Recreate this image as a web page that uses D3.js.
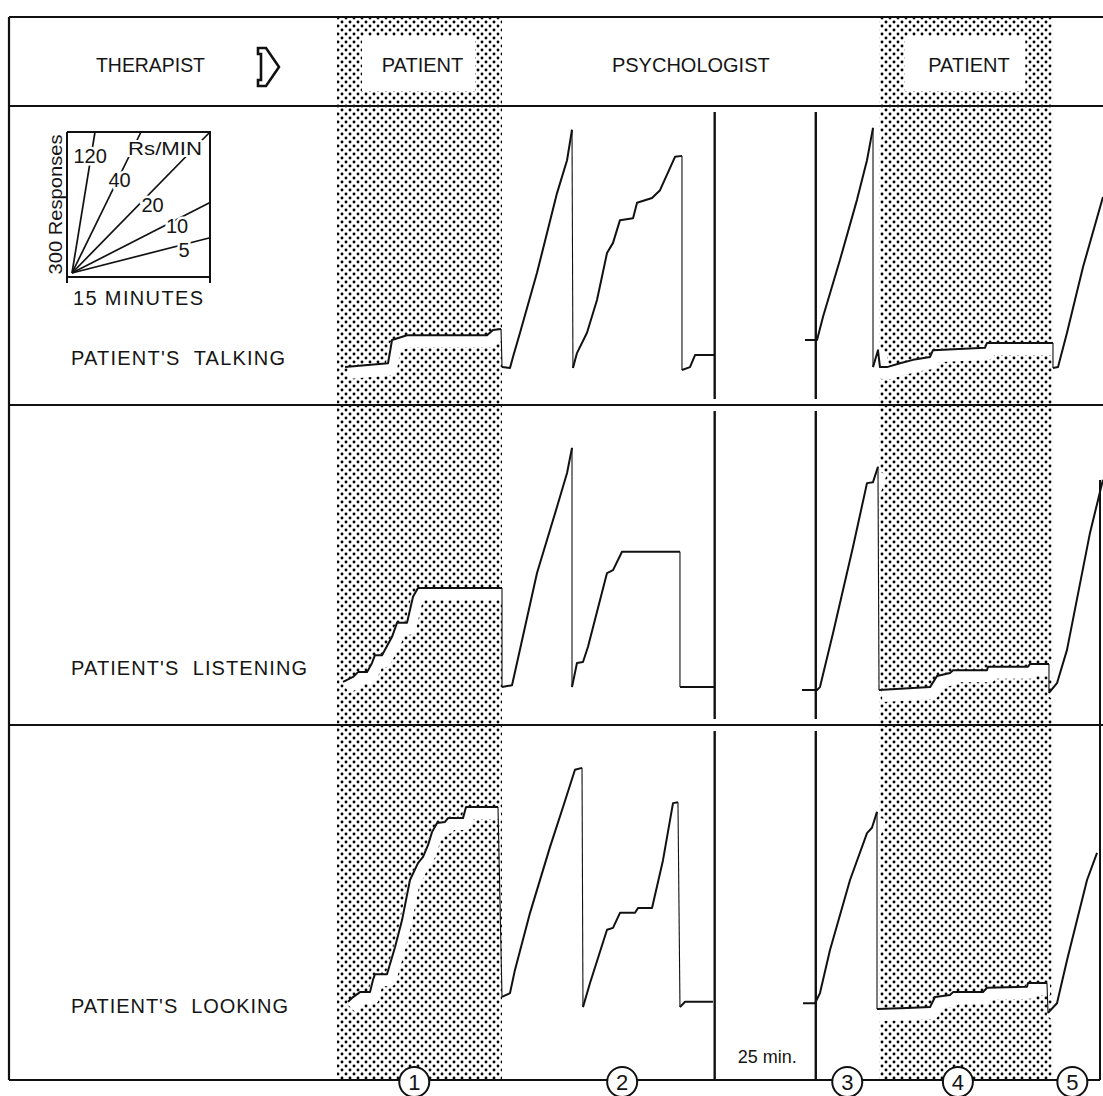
<!DOCTYPE html>
<html>
<head>
<meta charset="utf-8">
<script src="https://cdn.jsdelivr.net/npm/d3@7"></script>
<style>
  body { margin: 0; background: #fff; }
  text { font-family: "Liberation Sans", Arial, sans-serif; fill: #151515; white-space: pre; }
</style>
</head>
<body>
<div id="viz"></div>
<script>
// ---- data (minutes on the record, cumulative responses) ----
const rowLabels = ["PATIENT'S  TALKING", "PATIENT'S  LISTENING", "PATIENT'S  LOOKING"];
const phaseRoles = ['PATIENT', 'PSYCHOLOGIST', 'PATIENT'];
const phaseStart = [0, 17.3, 56.9];
const phaseEnd = [17.3, 56.9, 75.0];
const phaseMarks = [8.1, 29.9, 53.5, 65.1, 77.1];
const phaseNumbers = ['1', '2', '3', '4', '5'];
const breakFrom = 39.6;
const breakTo = 50.2;
const breakLabel = '25 min.';
const legendRates = [120, 40, 20, 10, 5];

const talking = [
  [[0.84, 6], [5.35, 14], [5.77, 62], [7.34, 72], [15.73, 72], [16.36, 83], [17.2, 85]],
  [[17.3, 6], [18.14, 4], [18.45, 27], [19.19, 77], [20.97, 201], [23.07, 366], [24.12, 434], [24.64, 497]],
  [[24.74, 4], [25.16, 35], [26.21, 77], [27.26, 145], [28.31, 242], [28.94, 263], [29.67, 310], [31.04, 314],
   [31.46, 346], [33.03, 356], [33.87, 372], [35.44, 441], [36.17, 443]],
  [[36.17, 0], [37.01, 6], [37.54, 31], [39.63, 31]],
  [[49.07, 62], [50.33, 62], [50.96, 110], [52.74, 228], [54.52, 352], [55.57, 434], [56.2, 501]],
  [[56.2, 6], [56.72, 41], [56.93, 6], [57.67, 6], [59.03, 14], [60.39, 21], [62.18, 27], [62.49, 41],
   [67.94, 46], [68.15, 56], [75.07, 56]],
  [[75.07, 4], [75.6, 6], [76.54, 77], [78.22, 213], [80.31, 358]]
];

const listening = [
  [[0.63, 17], [1.68, 27], [2.2, 37], [3.15, 37], [3.67, 56], [3.98, 72], [4.72, 72], [5.77, 110],
   [6.29, 139], [7.34, 139], [7.97, 193], [8.49, 211], [17.3, 211]],
  [[17.3, 6], [18.35, 10], [18.87, 56], [20.97, 242], [23.07, 379], [24.12, 449], [24.64, 501]],
  [[24.64, 6], [25.16, 56], [25.79, 58], [26.31, 89], [28.31, 242], [28.94, 248], [29.88, 286], [35.96, 286]],
  [[35.96, 6], [39.63, 6]],
  [[48.75, 0], [50.33, 0], [50.64, 6], [52.01, 118], [54.1, 296], [55.57, 428], [56.2, 430], [56.72, 462]],
  [[56.83, 0], [62.18, 6], [62.91, 29], [64.27, 35], [64.59, 41], [68.15, 41], [68.26, 48], [72.45, 48],
   [72.66, 54], [74.65, 54]],
  [[74.65, -6], [75.49, 14], [76.54, 83], [78.95, 325], [80.31, 435]]
];

const looking = [
  [[1.15, 17], [1.57, 25], [2.41, 37], [3.46, 37], [3.77, 62], [3.98, 74], [5.24, 74], [6.08, 130],
   [6.82, 186], [7.65, 269], [8.49, 304], [9.02, 317], [9.54, 341], [9.96, 368], [10.49, 387], [11.32, 389],
   [11.64, 397], [13.21, 397], [13.53, 420], [16.88, 420]],
  [[17.3, 27], [18.14, 35], [18.66, 83], [20.24, 201], [22.33, 337], [23.7, 420], [24.95, 497], [25.69, 501]],
  [[25.79, 6], [26.53, 56], [28.31, 166], [28.94, 170], [29.67, 201], [31.25, 201], [31.56, 211], [33.03, 211],
   [34.18, 310], [35.23, 428], [35.75, 430]],
  [[35.96, 6], [36.49, 17], [39.42, 17]],
  [[48.86, 14], [50.12, 14], [50.64, 35], [51.69, 124], [53.79, 269], [55.57, 366], [56.09, 377], [56.62, 410]],
  [[56.62, 2], [59.76, 4], [62.18, 6], [62.7, 27], [64.27, 31], [64.59, 37], [67.73, 37], [68.15, 46],
   [72.35, 48], [72.45, 56], [74.44, 56]],
  [[74.55, -6], [75.49, 14], [76.54, 103], [78.64, 269], [79.69, 325]]
];

const records = [talking, listening, looking];

// ---- layout ----
const width = 1103;
const height = 1096;
const frame = {left: 9, right: 1100, top: 17, header: 106, bottom: 1080};
const rowEdges = [106, 405, 725, 1080];
const rowBaselines = [370, 690, 1010];
const rowLabelY = [365, 675, 1013];

const x = d3.scaleLinear().domain([0, 80]).range([337, 1100]);
const rowScale = i => d3.scaleLinear().domain([0, 300]).range([rowBaselines[i], rowBaselines[i] - 145]);

const legendX = d3.scaleLinear().domain([0, 15]).range([72, 210]);
const legendY = d3.scaleLinear().domain([0, 300]).range([273, 132]);

const svg = d3.select('#viz')
  .append('svg')
    .attr('width', width)
    .attr('height', height)
    .attr('viewBox', `0 0 ${width} ${height}`);

svg.append('rect').attr('width', width).attr('height', height).attr('fill', '#fff');

// halftone dots
const pattern = svg.append('defs')
  .append('pattern')
    .attr('id', 'dots')
    .attr('patternUnits', 'userSpaceOnUse')
    .attr('width', 8)
    .attr('height', 8);
pattern.append('circle').attr('cx', 2).attr('cy', 2).attr('r', 1.45).attr('fill', '#000');
pattern.append('circle').attr('cx', 6).attr('cy', 6).attr('r', 1.45).attr('fill', '#000');

const patientIdx = phaseRoles.map((r, i) => i).filter(i => phaseRoles[i] === 'PATIENT');

// shaded patient periods
svg.append('g')
  .selectAll('rect')
  .data(patientIdx)
  .join('rect')
    .attr('x', i => x(phaseStart[i]))
    .attr('y', frame.top)
    .attr('width', i => x(phaseEnd[i]) - x(phaseStart[i]))
    .attr('height', frame.bottom - frame.top)
    .attr('fill', 'url(#dots)');

// white label boxes in the header
svg.append('g')
  .selectAll('rect')
  .data(patientIdx)
  .join('rect')
    .attr('x', i => x(phaseStart[i]) + 25)
    .attr('y', 36)
    .attr('width', i => x(phaseEnd[i]) - x(phaseStart[i]) - 52)
    .attr('height', 55)
    .attr('fill', '#fff');

const line = d3.line();

// white masks under the records (as on the original artwork)
records.forEach((segments, r) => {
  const y = rowScale(r);
  svg.append('g')
    .attr('transform', 'translate(3,6)')
    .selectAll('path')
    .data(segments)
    .join('path')
      .attr('d', seg => line(seg.map(p => [x(p[0]), y(p[1])])))
      .attr('fill', 'none')
      .attr('stroke', '#fff')
      .attr('stroke-width', 12)
      .attr('stroke-linejoin', 'round');
});

// frame
const frameG = svg.append('g').attr('stroke', '#111').attr('fill', 'none');
frameG.append('line').attr('x1', frame.left).attr('x2', width).attr('y1', frame.top).attr('y2', frame.top).attr('stroke-width', 2);
rowEdges.slice(0, 3).forEach(yy => {
  frameG.append('line').attr('x1', frame.left).attr('x2', width).attr('y1', yy).attr('y2', yy).attr('stroke-width', 2);
});
frameG.append('line').attr('x1', frame.left).attr('x2', frame.right).attr('y1', frame.bottom).attr('y2', frame.bottom).attr('stroke-width', 2);
frameG.append('line').attr('x1', frame.left).attr('x2', frame.left).attr('y1', frame.top).attr('y2', frame.bottom).attr('stroke-width', 2.2);
frameG.append('line').attr('x1', frame.right).attr('x2', frame.right).attr('y1', 480).attr('y2', frame.bottom).attr('stroke-width', 2);

// 25 minute break
[breakFrom, breakTo].forEach(t => {
  rowEdges.slice(1).forEach((yb, i) => {
    frameG.append('line')
      .attr('x1', x(t)).attr('x2', x(t))
      .attr('y1', rowEdges[i] + 6)
      .attr('y2', i === 2 ? frame.bottom : yb - 6)
      .attr('stroke-width', 2.4);
  });
});

// cumulative records
records.forEach((segments, r) => {
  const y = rowScale(r);
  const g = svg.append('g').attr('class', `record record-${r}`);

  g.selectAll('path.seg')
    .data(segments)
    .join('path')
      .attr('class', 'seg')
      .attr('d', seg => line(seg.map(p => [x(p[0]), y(p[1])])))
      .attr('fill', 'none')
      .attr('stroke', '#111')
      .attr('stroke-width', 2)
      .attr('stroke-linejoin', 'round');

  // pen resets between consecutive segments
  segments.forEach((seg, i) => {
    const next = segments[i + 1];
    if (!next) return;
    const last = seg[seg.length - 1];
    if (next[0][0] - last[0] > 1) return;
    g.append('line')
      .attr('x1', x(last[0])).attr('y1', y(last[1]))
      .attr('x2', x(next[0][0])).attr('y2', y(next[0][1]))
      .attr('stroke', '#111')
      .attr('stroke-width', 1.1);
  });
});

// header
svg.append('text')
  .attr('x', 96).attr('y', 72)
  .attr('font-size', 20)
  .attr('textLength', 109).attr('lengthAdjust', 'spacingAndGlyphs')
  .text('THERAPIST');

svg.append('path')
  .attr('d', 'M258,48 H266 L279,67 L266,86 H258 V80 H261 V54 H258 Z')
  .attr('fill', '#fff')
  .attr('stroke', '#111')
  .attr('stroke-width', 2.6)
  .attr('stroke-linejoin', 'miter');

svg.append('g')
  .selectAll('text')
  .data(phaseRoles)
  .join('text')
    .attr('x', (d, i) => x((phaseStart[i] + phaseEnd[i]) / 2) + (d === 'PATIENT' ? 3 : 0))
    .attr('y', 72)
    .attr('text-anchor', 'middle')
    .attr('font-size', 20)
    .text(d => d);

// row labels
svg.append('g')
  .selectAll('text')
  .data(rowLabels)
  .join('text')
    .attr('x', 71)
    .attr('y', (d, i) => rowLabelY[i])
    .attr('font-size', 20)
    .attr('textLength', (d, i) => [214, 236, 217][i])
    .attr('lengthAdjust', 'spacing')
    .text(d => d);

// legend: 15 minutes x 300 responses
const legend = svg.append('g').attr('class', 'legend');
legend.append('path')
  .attr('d', `M${legendX(0) - 5},${legendY(300)} H${legendX(15)} V${legendY(0) + 10}
              M${legendX(0) - 5},${legendY(300)} V${legendY(0) + 4} H${legendX(15)}
              M${legendX(0) - 5},${legendY(0) + 4} v6`)
  .attr('fill', 'none')
  .attr('stroke', '#111')
  .attr('stroke-width', 2);

legend.selectAll('line.rate')
  .data(legendRates)
  .join('line')
    .attr('class', 'rate')
    .attr('x1', legendX(0)).attr('y1', legendY(0))
    .attr('x2', d => legendX(Math.min(15, 300 / d)))
    .attr('y2', d => legendY(Math.min(300, d * 15)))
    .attr('stroke', '#111')
    .attr('stroke-width', 1.7);

const legendLabelY = [156, 180, 205, 226, 250];
const legendLabelDx = [-1, 2, 14, 13, 22];
legend.selectAll('text.rate')
  .data(legendRates)
  .join('text')
    .attr('class', 'rate')
    .attr('x', (d, i) => {
      const resp = legendY.invert(legendLabelY[i]);
      return legendX(resp / d) + legendLabelDx[i];
    })
    .attr('y', (d, i) => legendLabelY[i] + 7)
    .attr('text-anchor', 'middle')
    .attr('font-size', 20)
    .attr('stroke', '#fff')
    .attr('stroke-width', 5)
    .attr('paint-order', 'stroke')
    .text(d => d);

legend.append('text')
  .attr('x', 128).attr('y', 155)
  .attr('font-size', 19)
  .attr('textLength', 74).attr('lengthAdjust', 'spacingAndGlyphs')
  .attr('stroke', '#fff').attr('stroke-width', 4).attr('paint-order', 'stroke')
  .text('Rs/MIN');

legend.append('text')
  .attr('transform', `translate(62,${(legendY(0) + legendY(300)) / 2 + 2}) rotate(-90)`)
  .attr('text-anchor', 'middle')
  .attr('font-size', 19)
  .attr('textLength', 140).attr('lengthAdjust', 'spacingAndGlyphs')
  .text('300 Responses');

legend.append('text')
  .attr('x', 73).attr('y', 305)
  .attr('font-size', 20)
  .attr('textLength', 130).attr('lengthAdjust', 'spacing')
  .text('15 MINUTES');

// break label
svg.append('text')
  .attr('x', (x(breakFrom) + x(breakTo)) / 2 + 2)
  .attr('y', 1063)
  .attr('text-anchor', 'middle')
  .attr('font-size', 18)
  .text(breakLabel);

// numbered phases on the base line
const marks = svg.append('g')
  .selectAll('g')
  .data(phaseMarks)
  .join('g')
    .attr('transform', d => `translate(${x(d)},${frame.bottom + 2})`);
marks.append('circle')
  .attr('r', 15)
  .attr('fill', '#fff')
  .attr('stroke', '#111')
  .attr('stroke-width', 2);
marks.append('text')
  .attr('text-anchor', 'middle')
  .attr('dy', 8)
  .attr('font-size', 22)
  .text((d, i) => phaseNumbers[i]);
</script>
</body>
</html>
